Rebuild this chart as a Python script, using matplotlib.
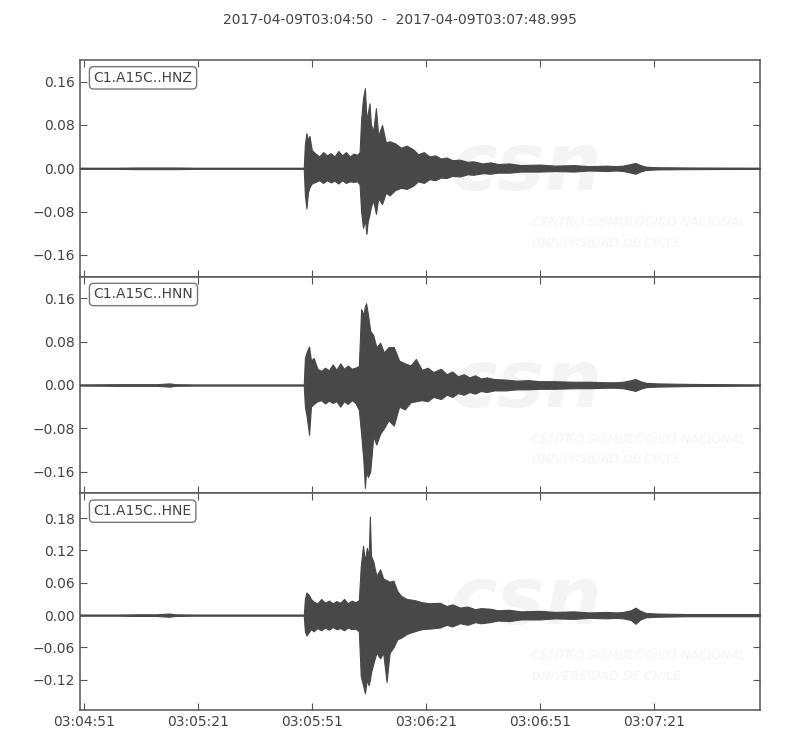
import matplotlib

matplotlib.use("Agg")
import matplotlib.pyplot as plt

TITLE = "2017-04-09T03:04:50  -  2017-04-09T03:07:48.995"
T_END = 178.995
TICK_SECONDS = [1, 31, 61, 91, 121, 151]
TICK_LABELS = ["03:04:51", "03:05:21", "03:05:51", "03:06:21", "03:06:51", "03:07:21"]
CHANNELS = ["C1.A15C..HNZ", "C1.A15C..HNN", "C1.A15C..HNE"]

# envelope of each trace (seconds after 03:04:50)
HNZ_T = [0, 10, 15, 20, 25, 30, 45, 58.9, 59.2, 59.6, 60.0, 60.4, 61, 62, 63, 64, 65, 66, 67, 68, 69, 70, 71,
         72, 73, 73.6, 74.0, 74.5, 75.0, 75.4, 75.7, 76.2, 76.6, 77.2, 77.9, 78.5, 79.5, 80.5, 81.5, 83, 84.5,
         86, 87.7, 89, 90.5, 92, 93.5, 95, 96.5, 98, 100, 102, 103.5, 106, 108, 110, 113, 116, 121, 125, 130,
         134, 138.7, 141, 143, 145, 146.2, 147.5, 149, 151.8, 160, 170, 179]
HNZ_UP = [0.001, 0.001, 0.0015, 0.0015, 0.0015, 0.001, 0.001, 0.001, 0.045, 0.065, 0.052, 0.060, 0.034, 0.027,
          0.022, 0.030, 0.024, 0.028, 0.022, 0.032, 0.024, 0.030, 0.022, 0.027, 0.025, 0.030, 0.09, 0.13,
          0.148, 0.09, 0.10, 0.12, 0.08, 0.07, 0.111, 0.06, 0.08, 0.048, 0.05, 0.046, 0.038, 0.042, 0.035,
          0.026, 0.03, 0.022, 0.024, 0.018, 0.02, 0.015, 0.016, 0.012, 0.013, 0.009, 0.011, 0.008, 0.009,
          0.006, 0.007, 0.005, 0.006, 0.004, 0.005, 0.004, 0.005, 0.008, 0.010, 0.006, 0.003, 0.002, 0.0015,
          0.0012, 0.001]
HNZ_LO = [-0.001, -0.001, -0.0015, -0.0015, -0.0015, -0.001, -0.001, -0.001, -0.05, -0.074, -0.045, -0.035,
          -0.028, -0.025, -0.022, -0.027, -0.022, -0.026, -0.023, -0.028, -0.022, -0.027, -0.024, -0.025,
          -0.024, -0.03, -0.08, -0.11, -0.095, -0.121, -0.10, -0.085, -0.07, -0.06, -0.084, -0.055, -0.066,
          -0.045, -0.05, -0.04, -0.036, -0.038, -0.032, -0.024, -0.027, -0.02, -0.022, -0.017, -0.018, -0.014,
          -0.015, -0.011, -0.012, -0.009, -0.01, -0.008, -0.008, -0.006, -0.006, -0.005, -0.006, -0.004,
          -0.005, -0.004, -0.005, -0.008, -0.010, -0.006, -0.003, -0.002, -0.0015, -0.0012, -0.001]

HNN_T = [0, 10, 20, 23.7, 25, 30, 45, 58.9, 59.2, 59.7, 60.3, 60.8, 61.5, 62.5, 63.5, 64.5, 65.5, 66.5, 67.5,
         68.5, 69.5, 70.5, 71.5, 72.5, 73.4, 74.0, 74.6, 75.0, 75.3, 75.8, 76.4, 77.2, 78.0, 79, 80, 81.2, 82.6,
         84, 85.5, 87, 88.4, 90, 91.5, 93, 95, 96.5, 98, 99.5, 101, 102.5, 104, 105.5, 107, 109, 112, 115, 118,
         121, 125, 130, 134, 138.7, 141, 143, 145, 146.2, 147.5, 149, 151.8, 160, 170, 179]
HNN_UP = [0.001, 0.0015, 0.0015, 0.003, 0.0015, 0.001, 0.001, 0.001, 0.05, 0.062, 0.071, 0.045, 0.05, 0.03,
          0.026, 0.032, 0.027, 0.038, 0.028, 0.04, 0.03, 0.036, 0.03, 0.032, 0.035, 0.14, 0.13, 0.145, 0.151,
          0.13, 0.10, 0.092, 0.07, 0.078, 0.06, 0.07, 0.07, 0.045, 0.04, 0.036, 0.048, 0.028, 0.032, 0.024,
          0.03, 0.02, 0.025, 0.016, 0.02, 0.014, 0.018, 0.012, 0.014, 0.011, 0.010, 0.008, 0.009, 0.007, 0.007,
          0.006, 0.006, 0.005, 0.005, 0.006, 0.009, 0.011, 0.007, 0.004, 0.003, 0.002, 0.0015, 0.001]
HNN_LO = [-0.001, -0.0015, -0.0015, -0.003, -0.0015, -0.001, -0.001, -0.001, -0.04, -0.06, -0.092, -0.04,
          -0.035, -0.03, -0.028, -0.034, -0.029, -0.033, -0.03, -0.04, -0.03, -0.035, -0.028, -0.033, -0.046,
          -0.09, -0.14, -0.19, -0.16, -0.17, -0.16, -0.095, -0.11, -0.09, -0.08, -0.065, -0.075, -0.04, -0.045,
          -0.032, -0.03, -0.028, -0.03, -0.022, -0.026, -0.018, -0.022, -0.015, -0.018, -0.013, -0.016, -0.011,
          -0.013, -0.01, -0.010, -0.008, -0.008, -0.007, -0.007, -0.006, -0.006, -0.005, -0.005, -0.006,
          -0.009, -0.011, -0.007, -0.004, -0.003, -0.002, -0.0015, -0.001]

HNE_T = [0, 10, 15, 20, 23.5, 25, 30, 45, 58.9,
         59.2, 59.6, 60.2, 60.8, 61.5, 62.5, 63.5, 64.5, 65.5, 66.5,
         67.5, 68.5, 69.5, 70.5, 71.5, 72.5, 73.4, 73.9, 74.5, 75.0,
         75.5, 76.0, 76.3, 76.6, 77.2, 78.0, 79.0, 79.8, 80.7, 81.5,
         82.5, 83.5, 84.5, 86, 88, 90, 92, 94.7, 96.5, 98,
         100, 102, 104, 105.5, 107.9, 110, 113, 116, 121, 125,
         130, 134, 138.7, 141, 143, 145, 146.2, 147.5, 149, 151.8,
         160, 170, 179]
HNE_UP = [0.001, 0.001, 0.0015, 0.0015, 0.003, 0.0015, 0.001, 0.001, 0.001,
          0.03, 0.042, 0.038, 0.03, 0.025, 0.022, 0.03, 0.023, 0.027, 0.022,
          0.026, 0.023, 0.03, 0.022, 0.027, 0.024, 0.028, 0.09, 0.129, 0.1,
          0.125, 0.11, 0.183, 0.11, 0.10, 0.073, 0.085, 0.068, 0.065, 0.062,
          0.064, 0.045, 0.036, 0.03, 0.028, 0.024, 0.022, 0.023, 0.017, 0.02,
          0.014, 0.016, 0.011, 0.013, 0.012, 0.009, 0.010, 0.007, 0.008, 0.006,
          0.007, 0.005, 0.006, 0.005, 0.006, 0.009, 0.014, 0.008, 0.004, 0.003,
          0.002, 0.002, 0.002]
HNE_LO = [-0.001, -0.001, -0.0015, -0.0015, -0.003, -0.0015, -0.001, -0.001, -0.001,
          -0.03, -0.038, -0.032, -0.026, -0.03, -0.024, -0.028, -0.023, -0.027, -0.022,
          -0.026, -0.024, -0.028, -0.023, -0.026, -0.025, -0.03, -0.113, -0.13, -0.145,
          -0.12, -0.13, -0.12, -0.107, -0.09, -0.07, -0.08, -0.07, -0.124, -0.07,
          -0.06, -0.045, -0.042, -0.035, -0.03, -0.026, -0.025, -0.023, -0.018, -0.021,
          -0.015, -0.018, -0.013, -0.015, -0.013, -0.010, -0.011, -0.008, -0.008, -0.006,
          -0.007, -0.005, -0.006, -0.005, -0.006, -0.009, -0.016, -0.008, -0.004, -0.003,
          -0.002, -0.002, -0.002]

YLIMS = [(-0.2, 0.2), (-0.2, 0.2), (-0.176, 0.226)]
YTICKS = [
    [-0.16, -0.08, 0.0, 0.08, 0.16],
    [-0.16, -0.08, 0.0, 0.08, 0.16],
    [-0.12, -0.06, 0.0, 0.06, 0.12, 0.18],
]

TRACE = "#484848"
FRAME = "#555555"
TEXT = "#444444"
MARK = "#f4f4f4"


def draw_panel(ax, t, up, lo, label, ylim, yticks):
    ax.fill_between(t, lo, up, color=TRACE, linewidth=0.8, edgecolor=TRACE, zorder=3)
    ax.plot([0, T_END], [0, 0], color=TRACE, linewidth=0.9, zorder=3)
    # faint watermark of the network
    ax.text(0.655, 0.5, "csn", transform=ax.transAxes, fontsize=58, fontweight="bold", style="italic",
            color=MARK, ha="center", va="center", zorder=1, clip_on=True)
    ax.text(0.665, 0.25, "CENTRO SISMOLÓGICO NACIONAL", transform=ax.transAxes, fontsize=9,
            style="italic", color=MARK, ha="left", va="center", zorder=1, clip_on=True)
    ax.text(0.665, 0.155, "UNIVERSIDAD DE CHILE", transform=ax.transAxes, fontsize=9,
            style="italic", color=MARK, ha="left", va="center", zorder=1, clip_on=True)
    ax.text(0.02, 0.95, label, transform=ax.transAxes, fontsize=10, color=TEXT, ha="left", va="top",
            zorder=5, bbox=dict(boxstyle="round,pad=0.3", facecolor="white", edgecolor="#777777", linewidth=1))
    ax.set_xlim(0, T_END)
    ax.set_ylim(*ylim)
    ax.set_yticks(yticks)
    ax.set_yticklabels([f"{v:.2f}".replace("-", "\u2212") for v in yticks])
    ax.set_xticks(TICK_SECONDS)
    ax.tick_params(direction="in", length=5, width=0.8, color=FRAME, labelcolor=TEXT, labelsize=10,
                   top=True, right=True)
    for spine in ax.spines.values():
        spine.set_color(FRAME)
        spine.set_linewidth(1.1)


def main() -> None:
    fig = plt.figure(figsize=(8, 7.5), dpi=100)
    left, width = 0.1, 0.85
    bottom, top = 1 - 710 / 750, 1 - 60 / 750
    height = (top - bottom) / 3
    traces = [(HNZ_T, HNZ_UP, HNZ_LO), (HNN_T, HNN_UP, HNN_LO), (HNE_T, HNE_UP, HNE_LO)]
    for i, (t, up, lo) in enumerate(traces):
        ax = fig.add_axes([left, top - (i + 1) * height, width, height])
        draw_panel(ax, t, up, lo, CHANNELS[i], YLIMS[i], YTICKS[i])
        if i < 2:
            ax.set_xticklabels([])
        else:
            ax.set_xticklabels(TICK_LABELS)
    fig.text(0.5, 1 - 20 / 750, TITLE, ha="center", va="center", fontsize=10, color=TEXT)
    fig.savefig("out.png", dpi=100)
    plt.close(fig)


if __name__ == "__main__":
    main()
